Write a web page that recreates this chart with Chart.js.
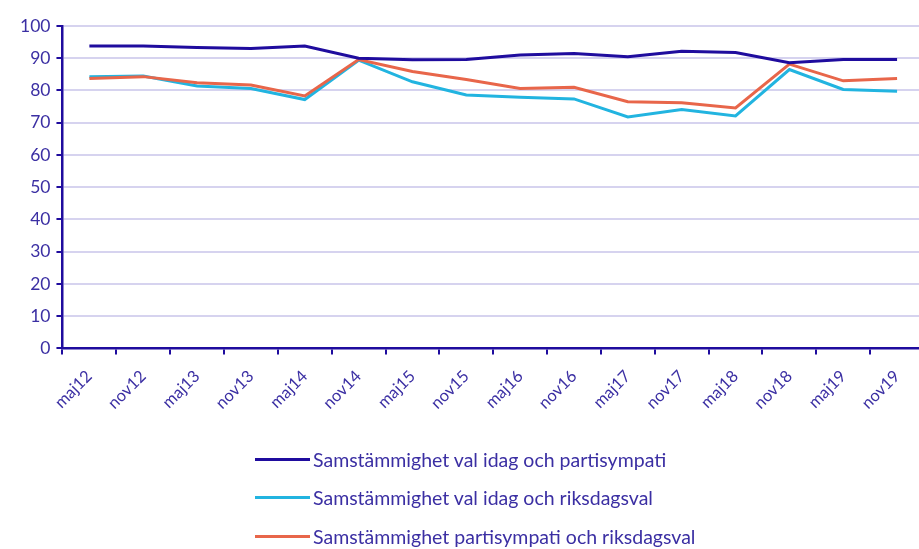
<!DOCTYPE html>
<html>
<head>
<meta charset="utf-8">
<script src="https://cdn.jsdelivr.net/npm/chart.js@4/dist/chart.umd.min.js"></script>
<style>
  html, body { margin: 0; padding: 0; background: #ffffff; overflow: hidden; }
  #wrap { position: relative; width: 919px; height: 549px; overflow: hidden; }
  #cv { position: absolute; left: 0; top: 0; }
  #legend { position: absolute; left: 255px; top: 440px; font-family: Lato, "Open Sans", sans-serif; font-size: 19.5px; color: #3b2fa3; }
  .li { display: flex; align-items: center; height: 38.5px; }
  .sw { width: 55px; height: 3px; margin-right: 3px; }
</style>
</head>
<body>
<div id="wrap">
  <canvas id="cv" width="930" height="549" style="width:930px;height:549px"></canvas>
  <div id="legend"></div>
</div>
<script>
const categories = ["maj12","nov12","maj13","nov13","maj14","nov14","maj15","nov15","maj16","nov16","maj17","nov17","maj18","nov18","maj19","nov19"];
const seriesNames = [
  "Samstämmighet val idag och partisympati",
  "Samstämmighet val idag och riksdagsval",
  "Samstämmighet partisympati och riksdagsval"
];
const valIdagPartisympati = [93.8, 93.8, 93.3, 93.0, 93.8, 90.0, 89.5, 89.6, 91.0, 91.5, 90.5, 92.2, 91.8, 88.6, 89.6, 89.6];
const valIdagRiksdagsval  = [84.3, 84.5, 81.4, 80.6, 77.2, 89.4, 82.7, 78.6, 77.9, 77.4, 71.8, 74.1, 72.1, 86.5, 80.3, 79.8];
const partisympatiRiksdagsval = [83.7, 84.3, 82.4, 81.7, 78.3, 89.6, 85.9, 83.4, 80.6, 81.0, 76.5, 76.2, 74.6, 88.2, 83.0, 83.7];
const yTicks = [0,10,20,30,40,50,60,70,80,90,100];

const colors = ["#1f0c9e", "#22b4e0", "#e8664a"];
const textColor = "#3b2fa3";
const axisColor = "#1f0c9e";
const fontFamily = "Lato, 'Open Sans', sans-serif";

const datasets = [valIdagPartisympati, valIdagRiksdagsval, partisympatiRiksdagsval].map((d, i) => ({
  label: seriesNames[i],
  data: d,
  borderColor: colors[i],
  backgroundColor: colors[i],
  borderWidth: 3,
  pointRadius: 0,
  tension: 0,
  fill: false
}));
datasets[0].order = 0;
datasets[1].order = 2;
datasets[2].order = 1;

new Chart(document.getElementById('cv'), {
  type: 'line',
  data: { labels: categories, datasets },
  options: {
    responsive: false,
    animation: false,
    layout: { padding: { left: 14, right: 6, top: 26, bottom: 124 } },
    plugins: { legend: { display: false }, tooltip: { enabled: false } },
    scales: {
      x: {
        offset: true,
        grid: { offset: true, drawOnChartArea: false, color: axisColor, tickColor: axisColor, tickLength: 6, lineWidth: 2 },
        border: { color: axisColor, width: 2.5 },
        ticks: { color: textColor, font: { family: fontFamily, size: 16.5 }, minRotation: 45, maxRotation: 45, padding: 12, autoSkip: false }
      },
      y: {
        min: 0, max: 100,
        afterBuildTicks: (s) => { s.ticks = yTicks.map(v => ({ value: v })); },
        grid: { color: "#d6d3ef", lineWidth: 2, tickColor: axisColor, tickLength: 6 },
        border: { color: axisColor, width: 2.5 },
        ticks: { color: textColor, font: { family: fontFamily, size: 17.5 }, padding: 6 }
      }
    }
  }
});

const lg = document.getElementById('legend');
seriesNames.forEach((n, i) => {
  const row = document.createElement('div');
  row.className = 'li';
  const sw = document.createElement('span');
  sw.className = 'sw';
  sw.style.background = colors[i];
  const t = document.createElement('span');
  t.textContent = n;
  row.appendChild(sw); row.appendChild(t);
  lg.appendChild(row);
});
</script>
</body>
</html>
